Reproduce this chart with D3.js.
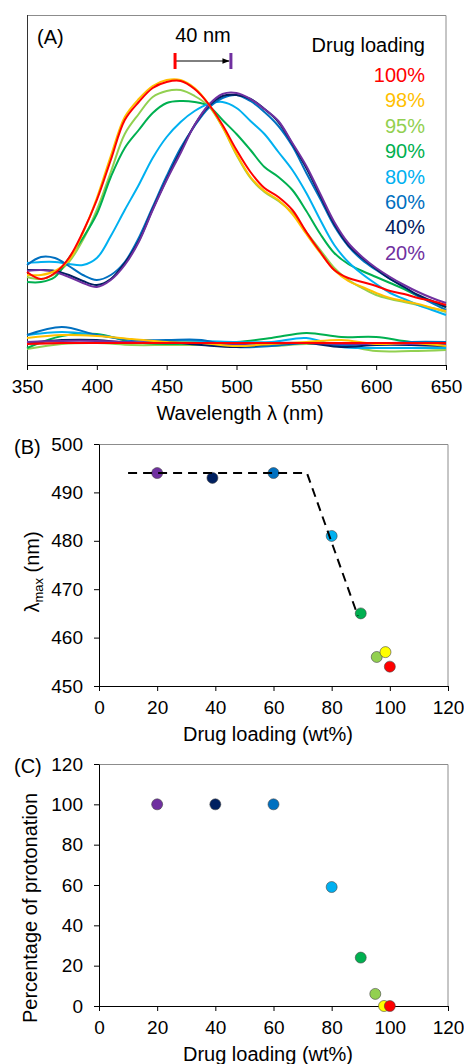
<!DOCTYPE html>
<html>
<head>
<meta charset="utf-8">
<script src="https://cdn.jsdelivr.net/npm/d3@7"></script>
<style>
  body { margin: 0; background: #fff; }
  text { font-family: Arial, "Liberation Sans", sans-serif; }
</style>
</head>
<body>
<div id="chart"></div>
<script>
// ---------------- data ----------------
// panel A: absorption spectra (arbitrary units), one value every 10 nm
const wavelengths = [350, 360, 370, 380, 390, 400, 410, 420, 430, 440, 450, 460, 470, 480, 490, 500,
  510, 520, 530, 540, 550, 560, 570, 580, 590, 600, 610, 620, 630, 640, 650];

const abs100 = [93, 86, 92, 107, 133, 165, 205, 245, 263, 277, 283, 284, 276, 261, 240, 215, 193, 177, 168, 155, 133, 113, 95, 87, 83, 79, 74, 71, 67, 64, 60];
const abs98 = [90, 90, 94, 105, 132, 167, 209, 248, 266, 279, 285, 285, 277, 261, 238, 211, 188, 174, 165, 151, 131, 112, 95, 84, 78, 72, 67, 64, 61, 57, 54];
const abs95 = [88, 86, 91, 103, 125, 155, 193, 231, 251, 268, 274, 275, 269, 259, 238, 210, 187, 173, 164, 152, 133, 115, 97, 85, 77, 70, 66, 63, 60, 57, 53];
const abs90 = [83, 83, 88, 107, 127, 151, 188, 217, 235, 252, 262, 264, 263, 259, 245, 231, 215, 198, 188, 175, 154, 131, 112, 101, 94, 88, 82, 76, 69, 63, 58];
const abs80 = [102, 103, 103, 101, 100, 107, 129, 155, 180, 207, 228, 243, 254, 261, 263, 257, 244, 231, 213, 195, 172, 145, 120, 103, 91, 81, 72, 66, 60, 55, 50];
const abs60 = [100, 108, 107, 99, 90, 85, 90, 103, 127, 158, 189, 217, 239, 257, 267, 270, 264, 253, 239, 219, 192, 166, 139, 119, 105, 95, 86, 78, 69, 62, 55];
const abs40 = [95, 95, 94, 90, 84, 80, 86, 102, 124, 156, 186, 214, 240, 259, 269, 270, 266, 256, 243, 221, 197, 169, 141, 120, 107, 96, 86, 78, 70, 64, 58];
const abs20 = [94, 95, 93, 88, 82, 78, 85, 100, 123, 155, 185, 212, 240, 260, 271, 272, 266, 256, 244, 222, 199, 171, 143, 122, 108, 97, 88, 80, 73, 67, 62];

// panel A: lower (baseline) traces, one value every 25 nm
const baseWavelengths = [350, 375, 400, 425, 450, 475, 500, 525, 550, 575, 600, 625, 650];
const base100 = [21, 22, 22, 22, 22, 22, 22, 22, 22, 22, 22, 22, 22];
const base98 = [27, 30, 29, 26, 23, 22, 19, 21, 23, 25, 21, 22, 19];
const base95 = [16, 21, 22, 20, 20, 20, 20, 19, 21, 20, 14, 14, 15];
const base90 = [17, 29, 31, 23, 21, 22, 23, 27, 32, 28, 28, 23, 22];
const base80 = [30, 33, 30, 25, 24, 24, 23, 23, 27, 18, 17, 17, 17];
const base60 = [30, 38, 30, 25, 25, 25, 18, 19, 22, 20, 21, 23, 23];
const base40 = [22, 25, 25, 22, 23, 20, 18, 21, 22, 18, 20, 20, 19];
const base20 = [23, 24, 24, 23, 22, 22, 21, 22, 22, 21, 21, 21, 21];

const loadingLabels = ["100%", "98%", "95%", "90%", "80%", "60%", "40%", "20%"];
const spectraColors = ["#FF0000", "#FFC000", "#92D050", "#00B050", "#00B0F0", "#0070C0", "#002060", "#7030A0"];
const shiftMarks = [456, 496]; // peak of 100% and 20%, nm

// panel B: wavelength of maximum vs drug loading
const loadingB = [20, 39, 60, 80, 90, 95.5, 98.5, 100];
const lambdaMax = [494, 493, 494, 481, 465, 456, 457, 454];
const trendX = [10, 71.5, 89];
const trendY = [494, 494, 464.5];

// panel C: percentage of protonation vs drug loading
const loadingC = [20, 40, 60, 80, 90, 95, 98, 100];
const protonation = [100, 100, 100, 59, 24, 6, 0, 0];

const pointColors = ["#7030A0", "#002060", "#0070C0", "#00B0F0", "#00B050", "#92D050", "#FFFF00", "#FF0000"];

// ---------------- drawing ----------------
const width = 464;
const height = 1064;
const font = "Arial, 'Liberation Sans', sans-serif";

const svg = d3.select("#chart")
  .append("svg")
  .attr("width", width)
  .attr("height", height);

function styleAxis(g) {
  g.selectAll("path.domain").attr("stroke", "#000");
  g.selectAll(".tick line").attr("stroke", "#000");
  g.selectAll(".tick text").attr("font-size", "19px").attr("fill", "#000").attr("font-family", font);
}

function frame(x0, x1, y0, y1) {
  // grey top and right border, black left axis line
  svg.append("line").attr("x1", x0).attr("x2", x1).attr("y1", y0).attr("y2", y0)
    .attr("stroke", "#8c8c8c").attr("stroke-width", 1);
  svg.append("line").attr("x1", x1).attr("x2", x1).attr("y1", y0).attr("y2", y1)
    .attr("stroke", "#8c8c8c").attr("stroke-width", 1);
}

// ---------------------------PANEL A-----------------------------------
const xA = d3.scaleLinear().domain([350, 650]).range([27, 446]);
const yA = d3.scaleLinear().domain([0, 350]).range([365, 15]);

frame(27, 446, 15.5, 365);
svg.append("line").attr("x1", 27.5).attr("x2", 27.5).attr("y1", 15).attr("y2", 365)
  .attr("stroke", "#333");

const spectra = [abs100, abs98, abs95, abs90, abs80, abs60, abs40, abs20];
const baselines = [base100, base98, base95, base90, base80, base60, base40, base20];

const spectrumLine = d3.line()
  .x((d, i) => xA(wavelengths[i]))
  .y((d) => yA(d))
  .curve(d3.curveCatmullRom.alpha(0.5));

const baseLine = d3.line()
  .x((d, i) => xA(baseWavelengths[i]))
  .y((d) => yA(d))
  .curve(d3.curveCatmullRom.alpha(0.5));

// drawing order so that red ends on top, purple over the blues
const drawOrder = [2, 3, 4, 5, 6, 7, 1, 0];

const gA = svg.append("g");
drawOrder.forEach((i) => {
  gA.append("path")
    .attr("d", baseLine(baselines[i]))
    .attr("fill", "none")
    .attr("stroke", spectraColors[i])
    .attr("stroke-width", 2);
});
drawOrder.forEach((i) => {
  gA.append("path")
    .attr("d", spectrumLine(spectra[i]))
    .attr("fill", "none")
    .attr("stroke", spectraColors[i])
    .attr("stroke-width", 2);
});

svg.append("g")
  .attr("transform", "translate(0,365)")
  .call(d3.axisBottom(xA).tickValues([350, 400, 450, 500, 550, 600, 650])
    .tickSize(5).tickSizeOuter(0).tickPadding(10))
  .call(styleAxis);

svg.append("text").attr("x", 240).attr("y", 420).attr("text-anchor", "middle")
  .attr("font-size", "20px").text("Wavelength λ (nm)");

svg.append("text").attr("x", 37).attr("y", 44).attr("font-size", "20px").text("(A)");

// 40 nm shift marker
svg.append("defs").append("marker")
  .attr("id", "arrow")
  .attr("viewBox", "0 0 10 10")
  .attr("refX", 10).attr("refY", 5)
  .attr("markerWidth", 7).attr("markerHeight", 7)
  .attr("orient", "auto")
  .append("path").attr("d", "M0,1 L10,5 L0,9 Z").attr("fill", "#000");

svg.append("line")
  .attr("x1", xA(shiftMarks[0]) + 1).attr("x2", xA(shiftMarks[1]) - 1.5)
  .attr("y1", 61).attr("y2", 61)
  .attr("stroke", "#000").attr("stroke-width", 1)
  .attr("marker-end", "url(#arrow)");
svg.append("line").attr("x1", xA(shiftMarks[0])).attr("x2", xA(shiftMarks[0]))
  .attr("y1", 53).attr("y2", 69).attr("stroke", "#FF0000").attr("stroke-width", 3);
svg.append("line").attr("x1", xA(shiftMarks[1])).attr("x2", xA(shiftMarks[1]))
  .attr("y1", 53).attr("y2", 69).attr("stroke", "#7030A0").attr("stroke-width", 3);
svg.append("text").attr("x", (xA(shiftMarks[0]) + xA(shiftMarks[1])) / 2).attr("y", 42)
  .attr("text-anchor", "middle").attr("font-size", "20px").text("40 nm");

// legend
svg.append("text").attr("x", 425).attr("y", 52).attr("text-anchor", "end")
  .attr("font-size", "20px").text("Drug loading");
svg.append("g").selectAll("text")
  .data(loadingLabels)
  .join("text")
  .attr("x", 425)
  .attr("y", (d, i) => 82 + i * 25.4)
  .attr("text-anchor", "end")
  .attr("font-size", "20px")
  .attr("fill", (d, i) => spectraColors[i])
  .text((d) => d);

// ---------------------------PANEL B-----------------------------------
const xB = d3.scaleLinear().domain([0, 120]).range([99, 448]);
const yB = d3.scaleLinear().domain([450, 500]).range([686, 444]);

frame(99, 448, 444.5, 686);

svg.append("g")
  .attr("transform", "translate(0,686)")
  .call(d3.axisBottom(xB).tickValues([0, 20, 40, 60, 80, 100, 120])
    .tickSize(5).tickSizeOuter(0).tickPadding(10))
  .call(styleAxis);
svg.append("g")
  .attr("transform", "translate(99,0)")
  .call(d3.axisLeft(yB).tickValues([450, 460, 470, 480, 490, 500])
    .tickSize(5).tickSizeOuter(0).tickPadding(11))
  .call(styleAxis);

svg.append("g").selectAll("circle")
  .data(loadingB)
  .join("circle")
  .attr("cx", (d) => xB(d))
  .attr("cy", (d, i) => yB(lambdaMax[i]))
  .attr("r", 5.5)
  .attr("fill", (d, i) => pointColors[i])
  .attr("stroke", "#444")
  .attr("stroke-width", 0.6);

svg.append("path")
  .attr("d", d3.line().x((d) => xB(d)).y((d, i) => yB(trendY[i]))(trendX))
  .attr("fill", "none")
  .attr("stroke", "#000")
  .attr("stroke-width", 2)
  .attr("stroke-dasharray", "9,6");

svg.append("text").attr("x", 14).attr("y", 454).attr("font-size", "20px").text("(B)");

const yLabelB = svg.append("text")
  .attr("transform", "translate(39,572) rotate(-90)")
  .attr("text-anchor", "middle")
  .attr("font-size", "20px");
yLabelB.append("tspan").text("λ");
yLabelB.append("tspan").attr("font-size", "13px").attr("dy", 4).text("max");
yLabelB.append("tspan").attr("dy", -4).text(" (nm)");

svg.append("text").attr("x", 268).attr("y", 741).attr("text-anchor", "middle")
  .attr("font-size", "20px").text("Drug loading (wt%)");

// ---------------------------PANEL C-----------------------------------
const xC = d3.scaleLinear().domain([0, 120]).range([99, 448]);
const yC = d3.scaleLinear().domain([0, 120]).range([1006, 764]);

frame(99, 448, 764.5, 1006);

svg.append("g")
  .attr("transform", "translate(0,1006)")
  .call(d3.axisBottom(xC).tickValues([0, 20, 40, 60, 80, 100, 120])
    .tickSize(5).tickSizeOuter(0).tickPadding(10))
  .call(styleAxis);
svg.append("g")
  .attr("transform", "translate(99,0)")
  .call(d3.axisLeft(yC).tickValues([0, 20, 40, 60, 80, 100, 120])
    .tickSize(5).tickSizeOuter(0).tickPadding(11))
  .call(styleAxis);

svg.append("g").selectAll("circle")
  .data(loadingC)
  .join("circle")
  .attr("cx", (d) => xC(d))
  .attr("cy", (d, i) => yC(protonation[i]))
  .attr("r", 5.5)
  .attr("fill", (d, i) => pointColors[i])
  .attr("stroke", "#444")
  .attr("stroke-width", 0.6);

svg.append("text").attr("x", 14).attr("y", 773).attr("font-size", "20px").text("(C)");

svg.append("text")
  .attr("transform", "translate(37,908) rotate(-90)")
  .attr("text-anchor", "middle")
  .attr("font-size", "20px")
  .text("Percentage of protonation");

svg.append("text").attr("x", 268).attr("y", 1061).attr("text-anchor", "middle")
  .attr("font-size", "20px").text("Drug loading (wt%)");
</script>
</body>
</html>
